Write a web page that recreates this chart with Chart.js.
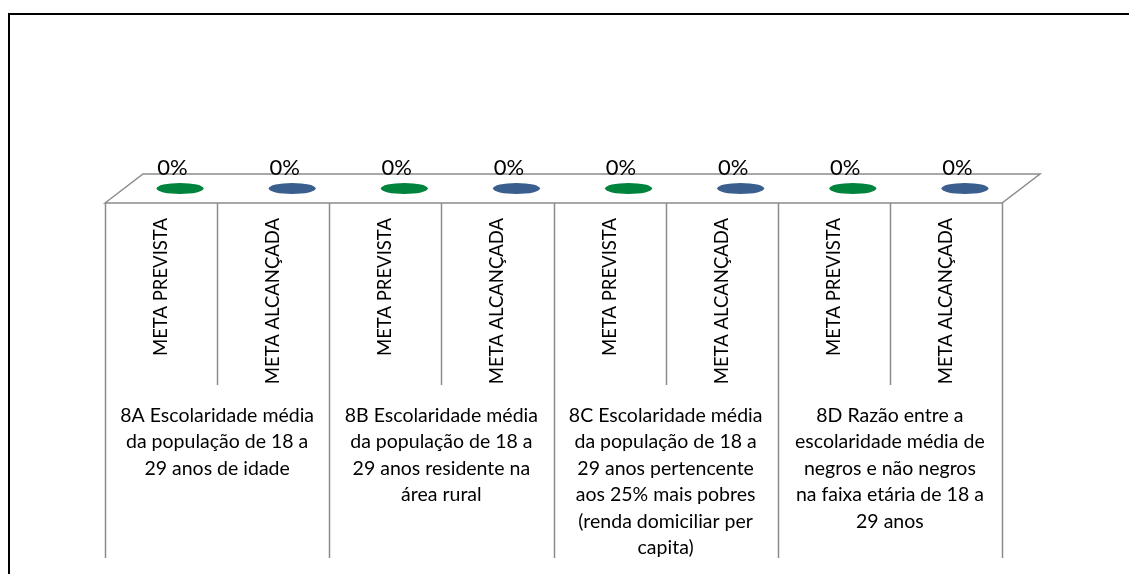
<!DOCTYPE html>
<html>
<head>
<meta charset="utf-8">
<script src="https://cdn.jsdelivr.net/npm/chart.js@4.4.0/dist/chart.umd.min.js"></script>
<style>
  html, body { margin: 0; padding: 0; background: #fff; }
  canvas { display: block; }
</style>
</head>
<body>
<canvas id="chart" width="1129" height="574"></canvas>
<script>
const subLabels = [
  'META PREVISTA', 'META ALCANÇADA',
  'META PREVISTA', 'META ALCANÇADA',
  'META PREVISTA', 'META ALCANÇADA',
  'META PREVISTA', 'META ALCANÇADA',
];
const groupLabels = [
  ['8A Escolaridade média', 'da população de 18 a', '29 anos de idade'],
  ['8B Escolaridade média', 'da população de 18 a', '29 anos residente na', 'área rural'],
  ['8C Escolaridade média', 'da população de 18 a', '29 anos pertencente', 'aos 25% mais pobres', '(renda domiciliar per', 'capita)'],
  ['8D Razão entre a', 'escolaridade média de', 'negros e não negros', 'na faixa etária de 18 a', '29 anos'],
];
const values = [0, 0, 0, 0, 0, 0, 0, 0];
const barColors = ['#00843d', '#3a5f8f', '#00843d', '#3a5f8f', '#00843d', '#3a5f8f', '#00843d', '#3a5f8f'];

const FONT = 'Lato, "Open Sans", sans-serif';
const DEPTH_X = 38;
const DEPTH_Y = 29;
const LINE = '#8c8c8c';

// floor, dividers and flat "cylinder" tops like the Excel 3D column chart
const floor3d = {
  id: 'floor3d',
  beforeDraw(chart) {
    const { ctx } = chart;
    ctx.save();
    ctx.strokeStyle = '#000';
    ctx.lineWidth = 2;
    ctx.strokeRect(9, 14, 1200, 1000);
    ctx.restore();
  },
  beforeDatasetsDraw(chart) {
    const { ctx } = chart;
    const x = chart.scales.x;
    const groups = chart.scales.groups;
    const y0 = chart.scales.y.getPixelForValue(0);
    ctx.save();
    ctx.strokeStyle = LINE;
    ctx.lineWidth = 1.5;
    ctx.beginPath();
    ctx.moveTo(x.left, y0);
    ctx.lineTo(x.left + DEPTH_X, y0 - DEPTH_Y);
    ctx.lineTo(x.right + DEPTH_X, y0 - DEPTH_Y);
    ctx.lineTo(x.right, y0);
    ctx.closePath();
    ctx.stroke();

    const n = subLabels.length;
    const step = (x.right - x.left) / n;
    for (let i = 0; i <= n; i++) {
      const px = Math.round(x.left + i * step) + 0.5;
      const end = i % 2 === 0 ? groups.bottom : x.bottom;
      ctx.beginPath();
      ctx.moveTo(px, y0);
      ctx.lineTo(px, end);
      ctx.stroke();
    }
    ctx.restore();
  },
  afterDatasetsDraw(chart) {
    const { ctx } = chart;
    const meta = chart.getDatasetMeta(0);
    ctx.save();
    meta.data.forEach((bar, i) => {
      const cx = bar.x + DEPTH_X / 2;
      const cy = bar.y - DEPTH_Y / 2;
      ctx.fillStyle = barColors[i];
      ctx.beginPath();
      ctx.ellipse(cx, cy, bar.width / 2, 5.5, 0, 0, Math.PI * 2);
      ctx.fill();

      ctx.fillStyle = '#000';
      ctx.font = '22px ' + FONT;
      ctx.textAlign = 'center';
      ctx.textBaseline = 'alphabetic';
      ctx.fillText(values[i] + '%', bar.x + DEPTH_X * 0.3, cy - 14);
    });
    ctx.restore();
  },
};

const ctx = document.getElementById('chart').getContext('2d');
new Chart(ctx, {
  type: 'bar',
  data: {
    labels: subLabels,
    datasets: [{
      data: values,
      backgroundColor: barColors,
      borderWidth: 0,
      categoryPercentage: 1,
      barPercentage: 0.42,
    }],
  },
  options: {
    responsive: false,
    animation: false,
    devicePixelRatio: 1,
    layout: { padding: { left: 105, right: 127, top: 100, bottom: 16 } },
    plugins: {
      legend: { display: false },
      tooltip: { enabled: false },
    },
    scales: {
      x: {
        type: 'category',
        position: 'bottom',
        offset: true,
        grid: { display: false, drawTicks: false },
        border: { display: false },
        ticks: {
          autoSkip: false,
          minRotation: 90,
          maxRotation: 90,
          padding: 15,
          color: '#000',
          font: { family: FONT, size: 18.5 },
        },
        afterFit(scale) { scale.height = 182; },
      },
      groups: {
        type: 'category',
        position: 'bottom',
        labels: groupLabels,
        offset: true,
        grid: { display: false, drawTicks: false },
        border: { display: false },
        ticks: {
          autoSkip: false,
          maxRotation: 0,
          minRotation: 0,
          padding: 17,
          color: '#000',
          font: { family: FONT, size: 19.5, lineHeight: 1.36 },
        },
        afterFit(scale) { scale.height = 173; },
      },
      y: {
        display: false,
        min: 0,
        max: 1,
      },
    },
  },
  plugins: [floor3d],
});
</script>
</body>
</html>
